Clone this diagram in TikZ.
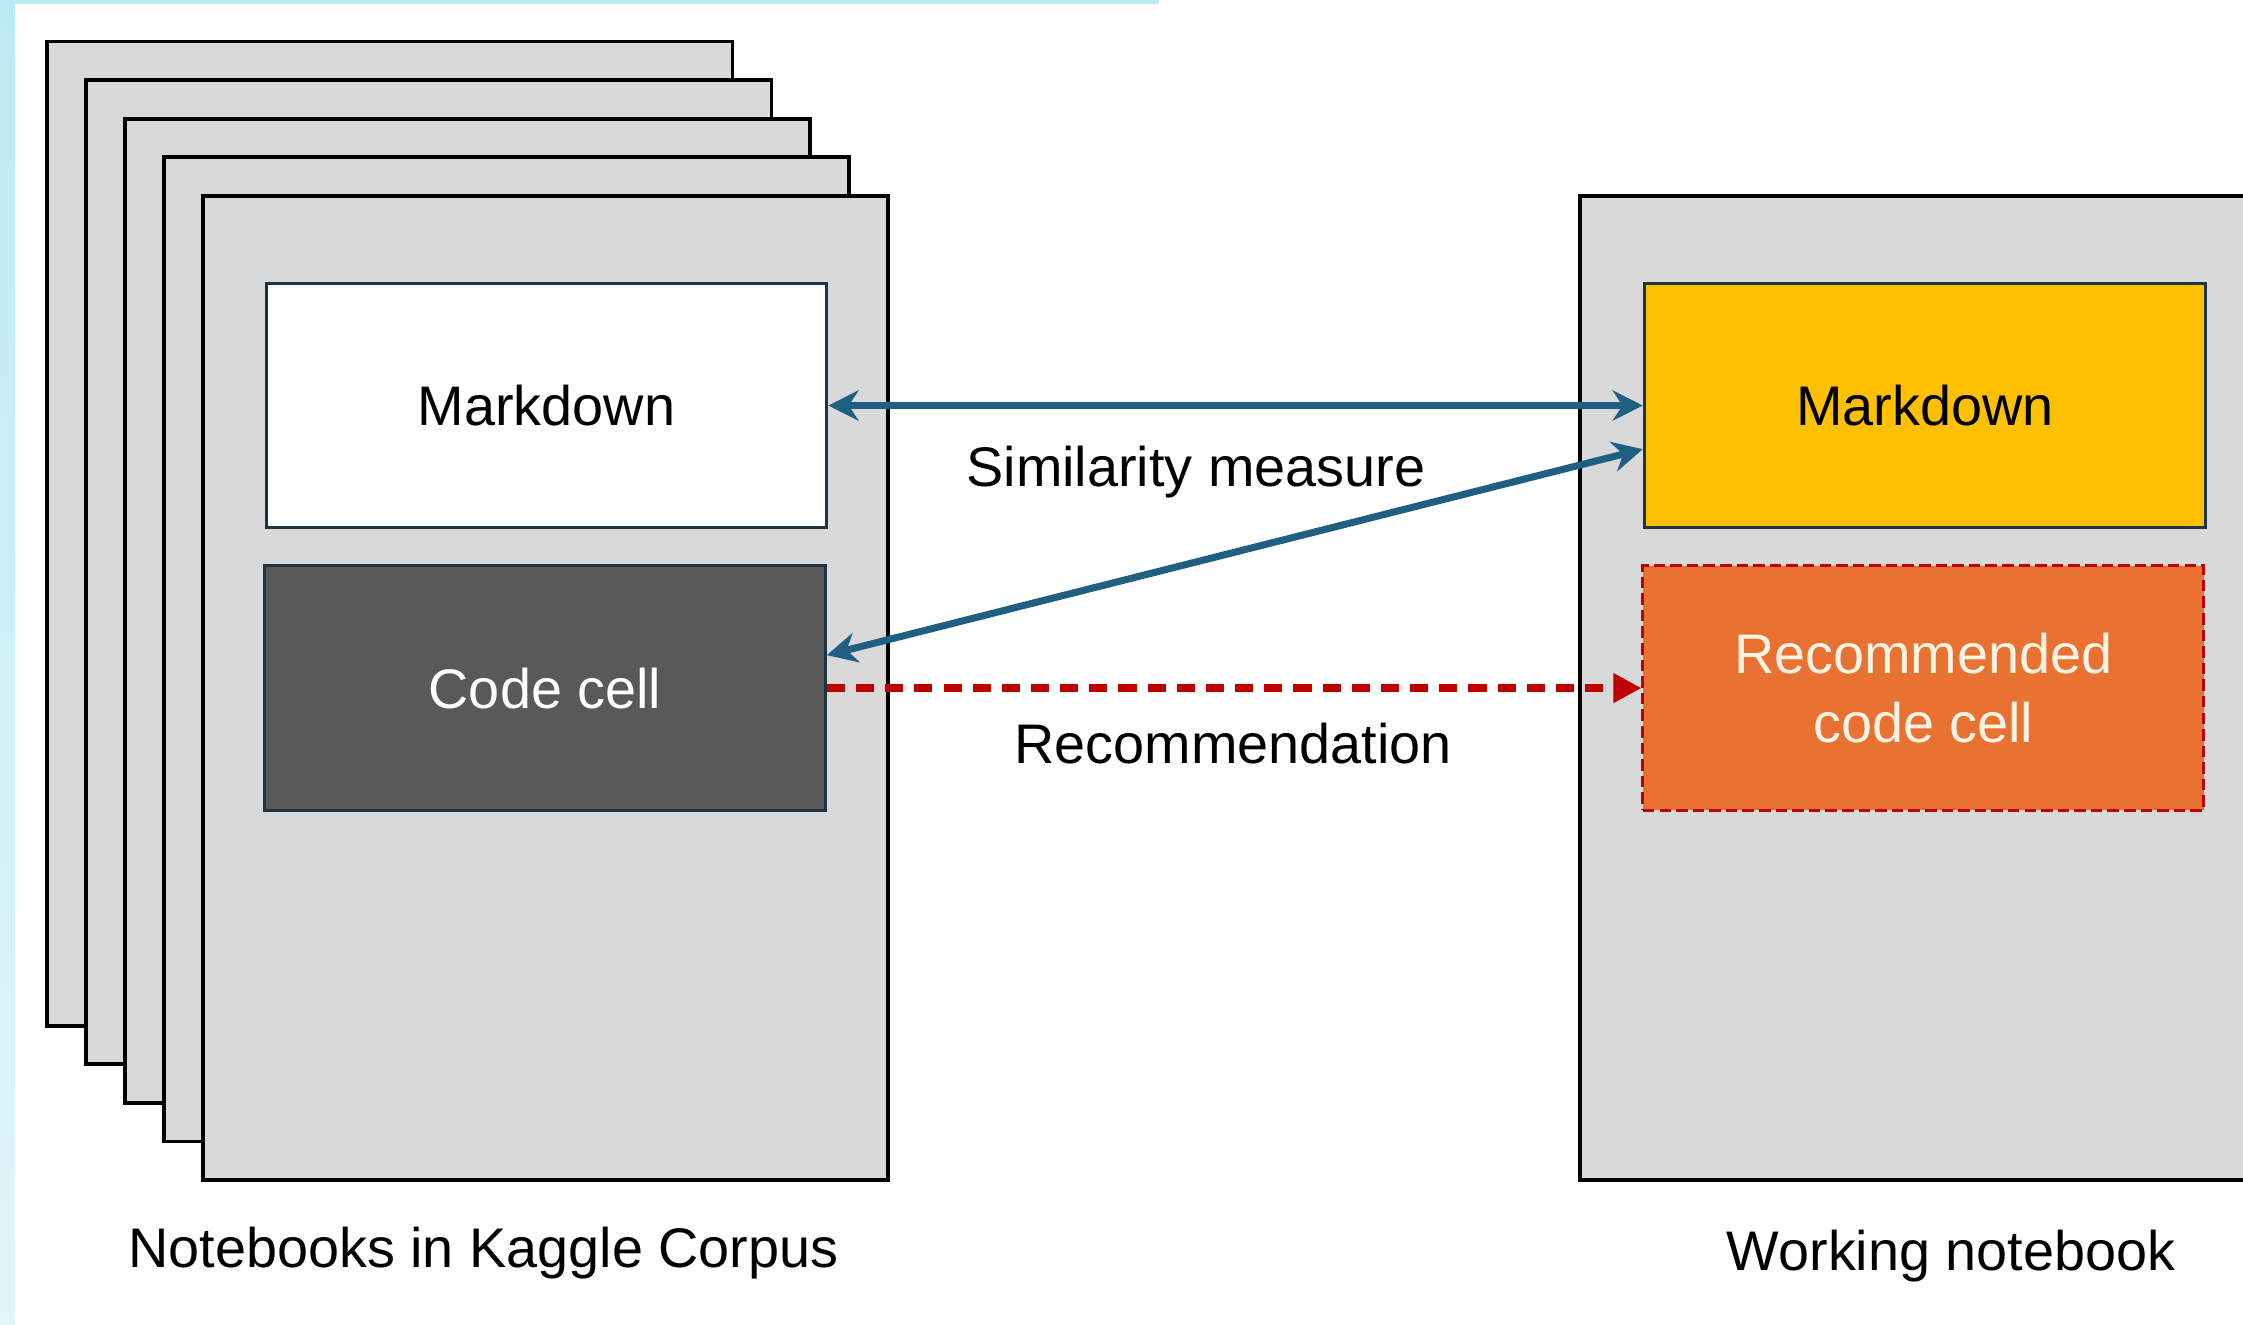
\documentclass[tikz,border=0pt]{standalone}
\usepackage{fontspec}
\setmainfont{Liberation Sans}
\usetikzlibrary{arrows.meta}

\definecolor{pagegray}{RGB}{217,217,217}
\definecolor{codegray}{RGB}{89,89,89}
\definecolor{cellborder}{RGB}{30,52,68}
\definecolor{mdyellow}{RGB}{255,192,0}
\definecolor{recorange}{RGB}{233,113,50}
\definecolor{recred}{RGB}{192,0,0}
\definecolor{simblue}{RGB}{31,96,130}
\definecolor{stripblue}{RGB}{188,234,244}

\begin{document}
\begin{tikzpicture}[x=0.1mm, y=-0.1mm,
  every node/.style = {font=\fontsize{11.1}{13.7}\selectfont, align=center},
  page/.style = {draw=black, line width=0.75pt, fill=pagegray, inner sep=0pt,
    minimum width=47.9mm, minimum height=68.8mm},
  cell/.style = {draw=cellborder, line width=0.6pt, inner sep=0pt,
    minimum width=39.2mm, minimum height=17.1mm},
  sim/.style = {draw=simblue, line width=1.4pt,
    {Stealth[length=6pt,width=6pt]}-{Stealth[length=6pt,width=6pt]}},
  rec/.style = {draw=recred, line width=1.6pt, dash pattern=on 3.6pt off 2.2pt,
    -{Triangle[length=5.6pt,width=5.6pt]}}]
  \useasboundingbox (0,0) rectangle (1568,926);
  \clip (0,0) rectangle (1568,926);
  \fill[stripblue] (0,0) rectangle (810,3);
  \shade[top color=stripblue, bottom color=stripblue!45] (0,0) rectangle (10,926);

  % stack of corpus notebooks
  \foreach \i in {0,...,4}
    \node[page] (page\i) at ({272.5+27.25*\i},{373+27*\i}) {};
  \node[page] (workpage) at (1344,481) {};

  \node[cell, fill=white] (mdL) at (382,283.5) {Markdown};
  \node[cell, fill=codegray, text=white] (codeL) at (381,481) {Code cell};
  \node[cell, fill=mdyellow] (mdR) at (1345.5,283.5) {Markdown};
  \node[cell, fill=recorange, text={rgb,255:red,255;green,244;blue,228},
    draw=recred, dash pattern=on 2.3pt off 1pt, line width=0.6pt]
    (recR) at (1344.5,481) {Recommended\\code cell};

  \draw[sim] (mdL.east) -- (mdR.west);
  \draw[sim] ([yshift=2.3mm]codeL.east) -- ([yshift=-3.05mm]mdR.west);
  \draw[rec] (codeL.east) -- (recR.west);

  \node (simlabel) at (836,330) {Similarity measure};
  \node (reclabel) at (862,520) {Recommendation};
  \node (corpuslabel) at (338,876) {Notebooks in Kaggle Corpus};
  \node (worklabel) at (1364,878) {Working notebook};
\end{tikzpicture}
\end{document}
